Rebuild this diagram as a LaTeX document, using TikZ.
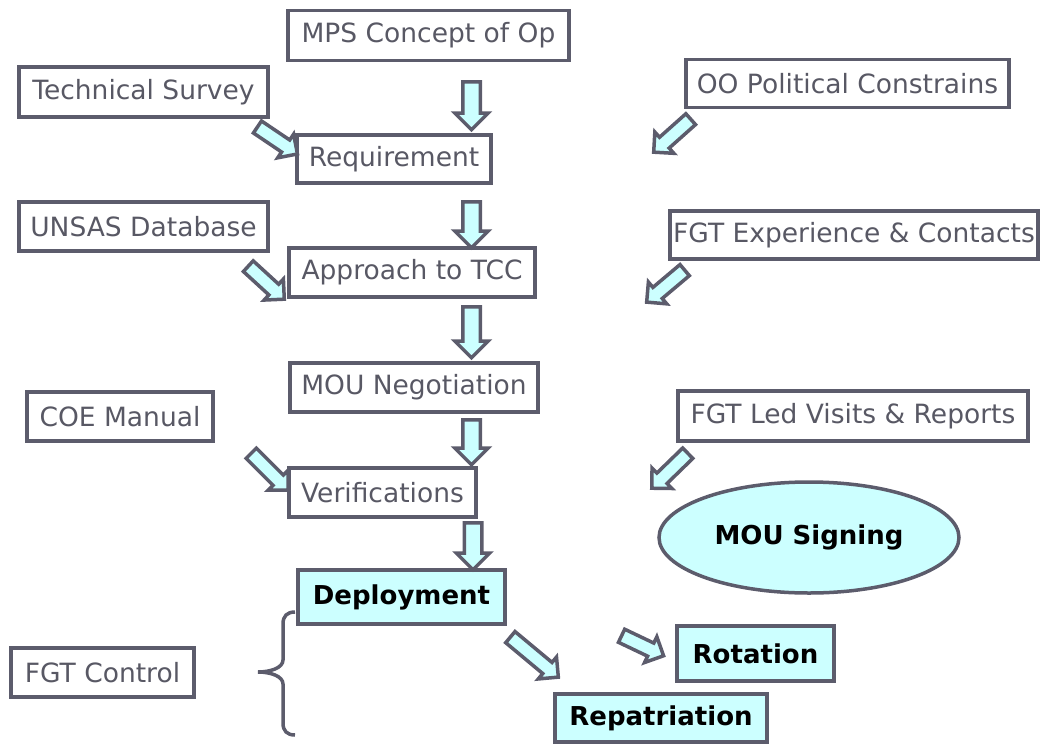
\documentclass[tikz,border=0pt]{standalone}
\usepackage{fontspec}
\setmainfont{DejaVu Sans}
\usetikzlibrary{shapes.geometric,shapes.arrows,calc}

\definecolor{boxgray}{RGB}{92,92,108}
\definecolor{txtgray}{RGB}{88,88,100}
\definecolor{paleaqua}{RGB}{204,255,255}

\tikzset{
  infobox/.style={draw=boxgray, line width=3.5pt, text=txtgray, inner sep=0pt,
    font=\fontsize{26.5}{31}\selectfont},
  keybox/.style={infobox, fill=paleaqua, text=black,
    font=\fontsize{26}{31}\selectfont\bfseries},
  barrow/.style={single arrow, draw=boxgray, fill=paleaqua, line width=3.5pt,
    inner xsep=0pt, inner ysep=7pt, minimum width=0pt,
    single arrow head extend=8pt, single arrow tip angle=90},
  slimarrow/.style={inner ysep=5.5pt, single arrow head extend=7pt},
}

% block arrow from tail coordinate to tip coordinate
\newcommand{\blockarrow}[3][]{%
  \path let \p1=($(#3)-(#2)$) in
    node[barrow,#1,anchor=tail,rotate={-atan2(\y1,\x1)},
         minimum height={veclen(\x1,\y1)}] at (#2) {};}

\begin{document}
\begin{tikzpicture}[x=1pt,y=1pt,yscale=-1]
\useasboundingbox (0,0) rectangle (1041,744);

%Boxes, centre column
\node[infobox, minimum width=281pt, minimum height=50pt] (mps) at (428.5,35.5) {MPS Concept of Op};
\node[infobox, minimum width=194pt, minimum height=48pt] (req) at (394,159) {Requirement};
\node[infobox, minimum width=246pt, minimum height=49pt] (tcc) at (412,272.5) {Approach to TCC};
\node[infobox, minimum width=248pt, minimum height=49pt] (neg) at (414,387.5) {MOU Negotiation};
\node[infobox, minimum width=187pt, minimum height=49pt] (ver) at (382.5,492.5) {Verifications};

%Boxes, left column
\node[infobox, minimum width=249pt, minimum height=50pt] (tech) at (143.5,92) {Technical Survey};
\node[infobox, minimum width=249pt, minimum height=49pt] (unsas) at (143.5,226.5) {UNSAS Database};
\node[infobox, minimum width=186pt, minimum height=49pt] (coe) at (120,416.5) {COE Manual};
\node[infobox, minimum width=183pt, minimum height=49pt] (ctrl) at (102.5,672.5) {FGT Control};

%Boxes, right column
\node[infobox, minimum width=323pt, minimum height=48pt] (oo) at (847.5,83.5) {OO Political Constrains};
\node[infobox, minimum width=368pt, minimum height=48pt] (exp) at (854,235) {FGT Experience \& Contacts};
\node[infobox, minimum width=350pt, minimum height=50pt] (led) at (853,416) {FGT Led Visits \& Reports};

%Key boxes
\node[keybox, ellipse, minimum width=300pt, minimum height=111pt] (sign) at (809,537.5) {MOU Signing};
\node[keybox, minimum width=207pt, minimum height=54pt] (dep) at (401.5,597) {Deployment};
\node[keybox, minimum width=157pt, minimum height=55pt] (rot) at (755.5,653.5) {Rotation};
\node[keybox, minimum width=212pt, minimum height=48pt] (rep) at (661,718) {Repatriation};

%Arrow end points
\coordinate (mpsOut) at (471.5,80);  \coordinate (reqIn) at (471.5,128);
\coordinate (reqOut) at (471.5,200); \coordinate (tccIn) at (471.5,246);
\coordinate (tccOut) at (471.5,305); \coordinate (negIn) at (471.5,356);
\coordinate (negOut) at (471.5,418); \coordinate (verIn) at (471.5,463);
\coordinate (verOut) at (473,521);   \coordinate (depIn) at (473,568);
\coordinate (techOut) at (256,126);  \coordinate (reqSide) at (296,153);
\coordinate (unsasOut) at (247,265); \coordinate (tccSide) at (283,298);
\coordinate (coeOut) at (250,452);   \coordinate (verSide) at (287,489);
\coordinate (ooOut) at (692,118);    \coordinate (ooTip) at (655,151);
\coordinate (expOut) at (686,269);   \coordinate (expTip) at (648,301);
\coordinate (ledOut) at (689,452);   \coordinate (ledTip) at (653,487);
\coordinate (depOut) at (509,636);   \coordinate (repIn) at (557,676);
\coordinate (rotTail) at (620,635);  \coordinate (rotIn) at (662,655);

%Block arrows down the centre
\blockarrow{mpsOut}{reqIn}
\blockarrow{reqOut}{tccIn}
\blockarrow{tccOut}{negIn}
\blockarrow{negOut}{verIn}
\blockarrow{verOut}{depIn}

%Block arrows from the sides
\blockarrow[slimarrow]{techOut}{reqSide}
\blockarrow[slimarrow]{unsasOut}{tccSide}
\blockarrow[slimarrow]{coeOut}{verSide}
\blockarrow[slimarrow]{ooOut}{ooTip}
\blockarrow[slimarrow]{expOut}{expTip}
\blockarrow[slimarrow]{ledOut}{ledTip}
\blockarrow[slimarrow]{depOut}{repIn}
\blockarrow[slimarrow]{rotTail}{rotIn}

%Curly brace
\draw [draw=boxgray, line width=3.5pt]  (295,612) .. controls (287,612) and (283,616) .. (283,624) -- (283,660) .. controls (283,668) and (270,672) .. (258,672) .. controls (270,672) and (283,676) .. (283,684) -- (283,723) .. controls (283,731) and (287,735) .. (295,735) ;

\end{tikzpicture}
\end{document}
